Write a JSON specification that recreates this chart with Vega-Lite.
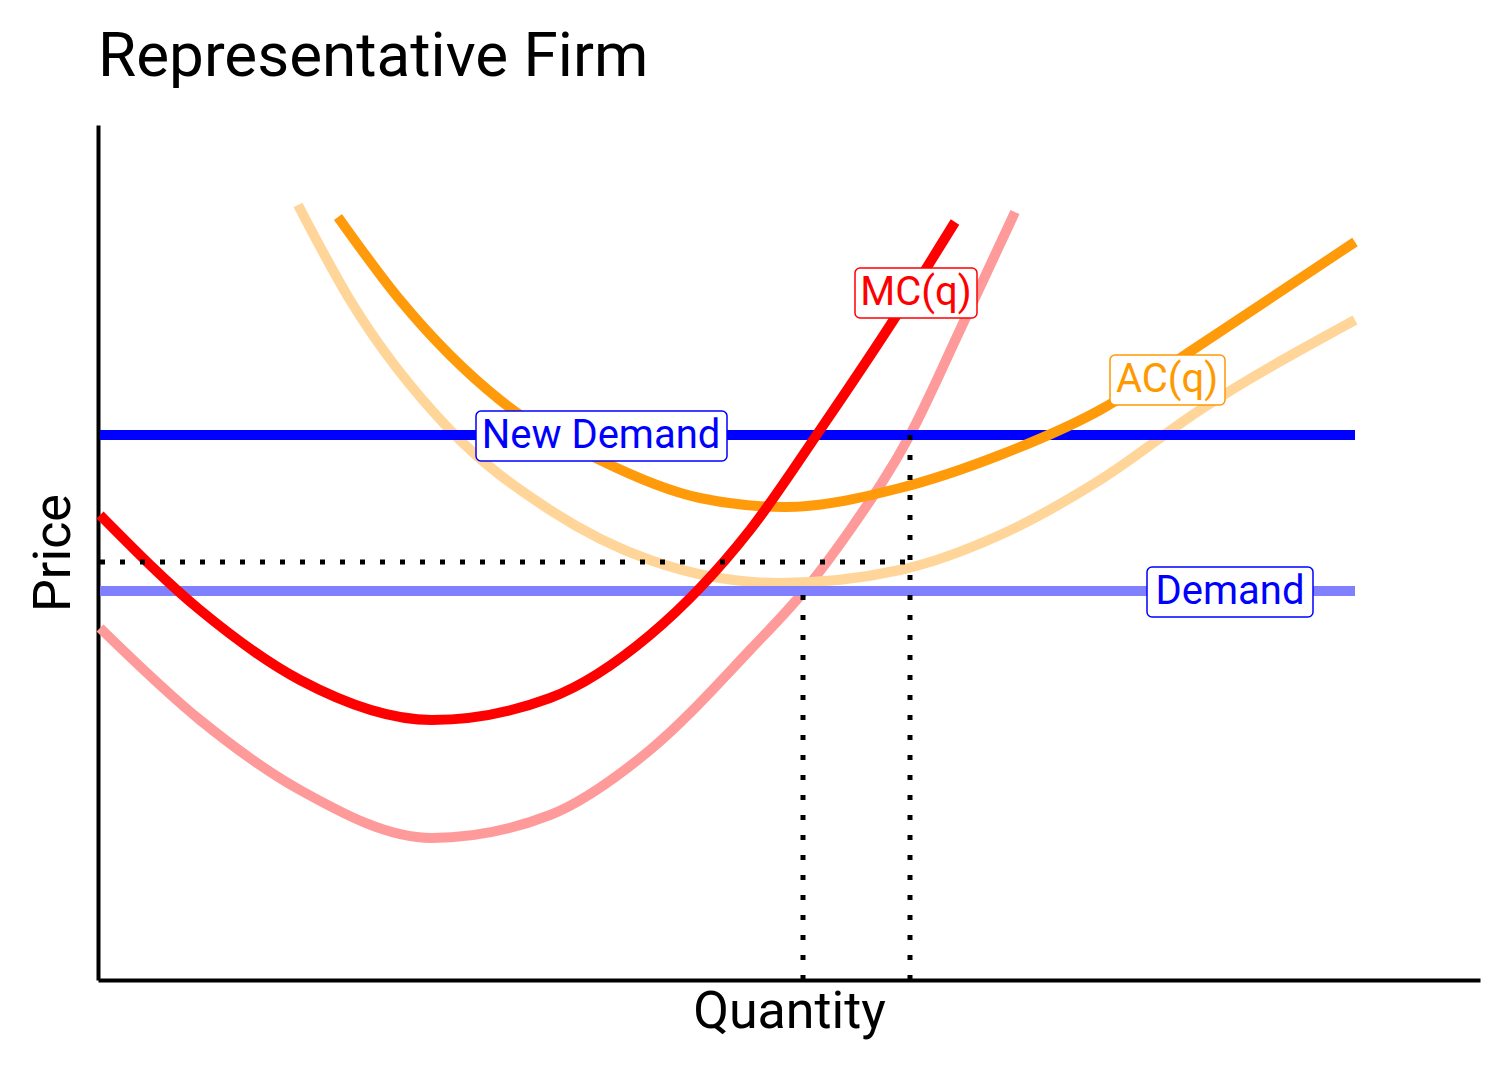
{
"$schema":"https://vega.github.io/schema/vega-lite/v6.json",
"width":1382,"height":855,"autosize":{"type":"none"},
"padding":{"left":98,"top":125,"right":32,"bottom":100},
"background":"white",
"title":{"text":"Representative Firm","anchor":"start","fontSize":62,"font":"Liberation Sans Narrow, Roboto","fontWeight":"normal","offset":36,"frame":"group"},
"config":{"view":{"stroke":null},"font":"Liberation Sans Narrow, Roboto"},
"datasets":{
"curves":[
{"s":"MC2","x":2,"y":352},{"s":"MC2","x":102,"y":260},{"s":"MC2","x":202,"y":190},{"s":"MC2","x":334,"y":142},{"s":"MC2","x":452,"y":165},{"s":"MC2","x":552,"y":230},{"s":"MC2","x":652,"y":330},{"s":"MC2","x":707,"y":390},{"s":"MC2","x":752,"y":450},{"s":"MC2","x":812,"y":545},{"s":"MC2","x":862,"y":650},{"s":"MC2","x":917,"y":768},
{"s":"AC2","x":200,"y":775},{"s":"AC2","x":252,"y":680},{"s":"AC2","x":352,"y":550},{"s":"AC2","x":452,"y":470},{"s":"AC2","x":552,"y":420},{"s":"AC2","x":682,"y":397},{"s":"AC2","x":802,"y":410},{"s":"AC2","x":902,"y":445},{"s":"AC2","x":1002,"y":500},{"s":"AC2","x":1102,"y":570},{"s":"AC2","x":1257,"y":660},
{"s":"D","x":2,"y":389},{"s":"D","x":1257,"y":389},
{"s":"ND","x":2,"y":545},{"s":"ND","x":1257,"y":545},
{"s":"AC","x":240,"y":763},{"s":"AC","x":302,"y":680},{"s":"AC","x":402,"y":580},{"s":"AC","x":502,"y":520},{"s":"AC","x":602,"y":482},{"s":"AC","x":687,"y":473},{"s":"AC","x":802,"y":492},{"s":"AC","x":902,"y":525},{"s":"AC","x":1002,"y":570},{"s":"AC","x":1102,"y":635},{"s":"AC","x":1257,"y":738},
{"s":"MC","x":2,"y":465},{"s":"MC","x":102,"y":370},{"s":"MC","x":202,"y":300},{"s":"MC","x":334,"y":260},{"s":"MC","x":452,"y":282},{"s":"MC","x":552,"y":345},{"s":"MC","x":652,"y":450},{"s":"MC","x":722,"y":550},{"s":"MC","x":802,"y":670},{"s":"MC","x":857,"y":758}
],
"dots":[{"x":2,"x2":812,"y":418,"y2":418},{"x":705,"x2":705,"y":0,"y2":389},{"x":812,"x2":812,"y":0,"y2":545}],
"labels":[
{"t":"MC(q)","c":"#ff0000","x":818,"y":687,"x1":757,"x2":879,"y1":662,"y2":712},
{"t":"AC(q)","c":"#ff9900","x":1069,"y":600,"x1":1012,"x2":1127,"y1":575,"y2":625},
{"t":"New Demand","c":"#0000ff","x":503,"y":544,"x1":378,"x2":629,"y1":519,"y2":569},
{"t":"Demand","c":"#0000ff","x":1132,"y":388,"x1":1049,"x2":1215,"y1":363,"y2":413}
]},
"layer":[
{"data":{"name":"curves"},"mark":{"type":"line","strokeWidth":10,"interpolate":"monotone"},
"encoding":{
"x":{"field":"x","type":"quantitative","scale":{"domain":[0,1382],"nice":false,"zero":false},"axis":{"title":"Quantity","ticks":false,"labels":false,"grid":false,"domainColor":"black","domainWidth":4,"titleFontSize":52,"titleFontWeight":"normal","titleColor":"black","titlePadding":6}},
"y":{"field":"y","type":"quantitative","scale":{"domain":[0,855],"nice":false,"zero":false},"axis":{"title":"Price","ticks":false,"labels":false,"grid":false,"domainColor":"black","domainWidth":4,"titleFontSize":52,"titleFontWeight":"normal","titleColor":"black","titlePadding":18}},
"color":{"field":"s","type":"nominal","legend":null,"scale":{"domain":["MC2","AC2","D","ND","AC","MC"],"range":["#ff9a9a","#ffd59a","#8080ff","#0000ff","#ff9a0a","#ff0000"]}},
"detail":{"field":"s"}}},
{"data":{"name":"dots"},"mark":{"type":"rule","strokeWidth":5,"strokeDash":[5,15],"color":"black"},
"encoding":{"x":{"field":"x","type":"quantitative"},"x2":{"field":"x2"},"y":{"field":"y","type":"quantitative"},"y2":{"field":"y2"}}},
{"data":{"name":"labels"},"mark":{"type":"rect","fill":"white","strokeWidth":1.5,"cornerRadius":5},
"encoding":{"x":{"field":"x1","type":"quantitative"},"x2":{"field":"x2"},"y":{"field":"y1","type":"quantitative"},"y2":{"field":"y2"},"stroke":{"field":"c","type":"nominal","scale":null}}},
{"data":{"name":"labels"},"mark":{"type":"text","fontSize":40},
"encoding":{"x":{"field":"x","type":"quantitative"},"y":{"field":"y","type":"quantitative"},"text":{"field":"t"},"color":{"field":"c","type":"nominal","scale":null}}}
]}
